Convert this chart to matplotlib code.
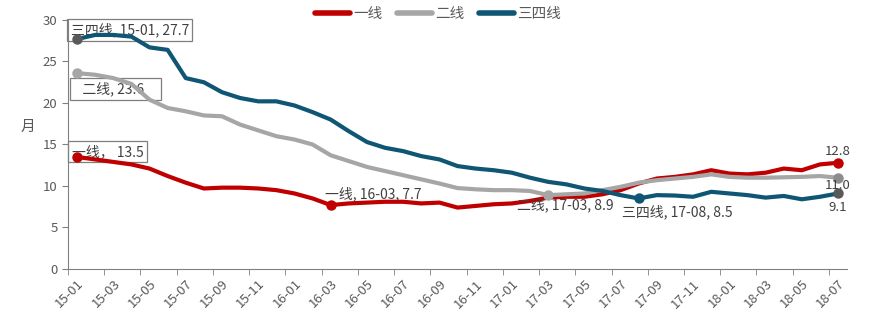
import matplotlib
matplotlib.use("Agg")
import matplotlib.pyplot as plt
import numpy as np

plt.rcParams['font.family'] = ['Noto Sans CJK SC', 'DejaVu Sans']

# 2015-01 .. 2018-07 monthly
months = [f"{y:02d}-{m:02d}" for y in (15, 16, 17, 18) for m in range(1, 13)][:43]

tier1 = [13.5, 13.2, 12.9, 12.6, 12.1, 11.2, 10.4, 9.7, 9.8, 9.8, 9.7, 9.5, 9.1, 8.5,
         7.7, 7.9, 8.0, 8.1, 8.1, 7.9, 8.0, 7.4, 7.6, 7.8, 7.9, 8.2, 8.6, 8.7, 8.7,
         9.0, 9.5, 10.3, 10.9, 11.1, 11.4, 11.9, 11.5, 11.4, 11.6, 12.1, 11.9, 12.6, 12.8]
tier2 = [23.6, 23.4, 23.0, 22.3, 20.4, 19.4, 19.0, 18.5, 18.4, 17.4, 16.7, 16.0, 15.6, 15.0,
         13.7, 13.0, 12.3, 11.8, 11.3, 10.8, 10.3, 9.75, 9.6, 9.5, 9.5, 9.4, 8.9, 9.0, 9.1,
         9.5, 9.9, 10.4, 10.7, 10.9, 11.1, 11.4, 11.1, 11.0, 11.0, 11.05, 11.1, 11.2, 11.0]
tier34 = [27.7, 28.2, 28.2, 28.0, 26.7, 26.4, 23.0, 22.5, 21.3, 20.6, 20.2, 20.2, 19.7, 18.9,
          18.0, 16.6, 15.3, 14.6, 14.2, 13.6, 13.2, 12.4, 12.1, 11.9, 11.6, 11.0, 10.5, 10.2, 9.7,
          9.4, 8.9, 8.5, 8.9, 8.85, 8.7, 9.3, 9.1, 8.9, 8.6, 8.8, 8.4, 8.7, 9.1]

RED, GREY, BLUE = "#C00000", "#A6A6A6", "#0F5675"
TXT = "#404040"

x = np.arange(len(months))

fig = plt.figure(figsize=(8.76, 3.22), dpi=100)
ax = fig.add_axes([0.0776, 0.1646, 0.8894, 0.7733])

ax.plot(x, tier1, color=RED, lw=3, solid_capstyle="round", solid_joinstyle="round", label="一线")
ax.plot(x, tier2, color=GREY, lw=3, solid_capstyle="round", solid_joinstyle="round", label="二线")
ax.plot(x, tier34, color=BLUE, lw=3, solid_capstyle="round", solid_joinstyle="round", label="三四线")

# highlighted points
i_1603 = months.index("16-03")
i_1703 = months.index("17-03")
i_1708 = months.index("17-08")
last = len(months) - 1
ax.plot([0, i_1603, last], [tier1[0], tier1[i_1603], tier1[last]], "o", color=RED, ms=6.5)
ax.plot([0, i_1703], [tier2[0], tier2[i_1703]], "o", color=GREY, ms=6.5)
ax.plot([last], [tier2[last]], "o", color="#8C8C8C", ms=6.5)
ax.plot([0, last], [tier34[0], tier34[last]], "o", color="#595959", ms=6.5)
ax.plot([i_1708], [tier34[i_1708]], "o", color=BLUE, ms=6.5)

box = dict(boxstyle="square,pad=0.25", fc="none", ec="#7F7F7F", lw=0.9)
ax.text(-0.35, 28.8, f"三四线, {months[0]}, {tier34[0]}", fontsize=10, color=TXT,
        ha="left", va="center", bbox=box, zorder=1)
ax.text(-0.2, 21.7, f"   二线, {tier2[0]}    ", fontsize=10, color=TXT,
        ha="left", va="center", bbox=box, zorder=1)
ax.text(-0.3, 14.1, f"一线， {tier1[0]}", fontsize=10, color=TXT,
        ha="left", va="center", bbox=box, zorder=1)

ax.text(i_1603 - 0.3, tier1[i_1603] + 1.3, f"一线, {months[i_1603]}, {tier1[i_1603]}",
        fontsize=10, color=TXT, ha="left", va="center")
ax.text(i_1703 - 1.7, tier2[i_1703] - 1.2, f"二线, {months[i_1703]}, {tier2[i_1703]}",
        fontsize=10, color=TXT, ha="left", va="center")
ax.text(i_1708 - 0.9, tier34[i_1708] - 1.6, f"三四线, {months[i_1708]}, {tier34[i_1708]}",
        fontsize=10, color=TXT, ha="left", va="center")
ax.text(last, tier1[last] + 1.4, f"{tier1[last]}", fontsize=9.5, color=TXT, ha="center", va="center")
ax.text(last, tier2[last] - 1.0, f"{tier2[last]:.1f}", fontsize=9.5, color=TXT, ha="center", va="center")
ax.text(last, tier34[last] - 1.7, f"{tier34[last]}", fontsize=9.5, color=TXT, ha="center", va="center")

ax.set_xlim(-0.5, len(months) - 0.5)
ax.set_ylim(0, 30)
ax.set_yticks(np.arange(0, 31, 5))

ax.set_xticks(x[::2])
ax.set_xticklabels(months[::2], rotation=45, ha="right", rotation_mode="anchor")
ax.set_xticks(np.arange(-0.5, len(months) - 1, 2), minor=True)
ax.tick_params(axis="x", which="major", length=0, pad=6, labelsize=9.5, labelcolor="#595959")
ax.tick_params(axis="x", which="minor", length=4, color="#808080", direction="out")
ax.tick_params(axis="y", length=4, color="#808080", labelsize=9.5, labelcolor="#595959")

for s in ("top", "right"):
    ax.spines[s].set_visible(False)
for s in ("left", "bottom"):
    ax.spines[s].set_color("#808080")

ax.set_ylabel("月", rotation=0, fontsize=10.5, color="#595959", va="center")
ax.yaxis.set_label_coords(-0.052, 0.57)

fig.legend(loc="upper center", bbox_to_anchor=(0.5, 1.02), ncol=3, frameon=False,
           fontsize=10.5, handlelength=2.4, handletextpad=0.2, columnspacing=1.0,
           labelcolor="#595959")
for line in fig.legends[0].get_lines():
    line.set_linewidth(4)

fig.savefig("out.png", dpi=100)
